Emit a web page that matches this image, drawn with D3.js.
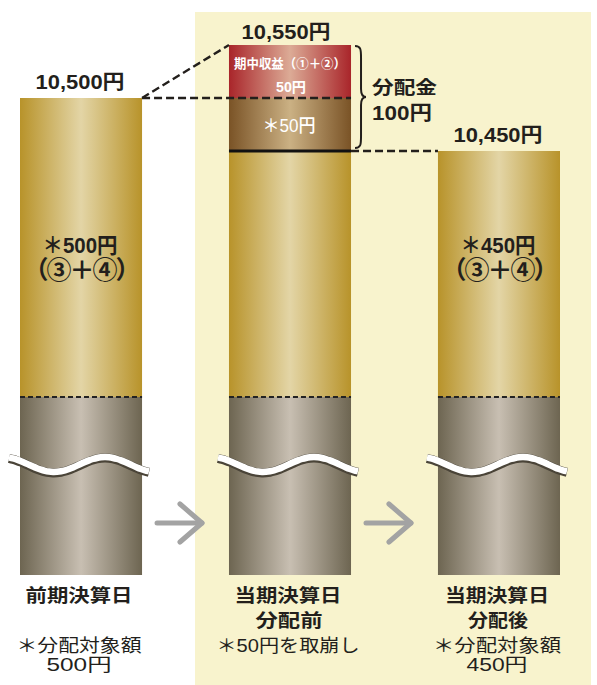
<!DOCTYPE html>
<html>
<head>
<meta charset="utf-8">
<script src="https://cdn.jsdelivr.net/npm/d3@7"></script>
<style>
  body { margin: 0; background: #fff; }
  text { font-family: "Liberation Sans", "Noto Sans CJK JP", sans-serif; fill: #231f1c; }
</style>
</head>
<body>
<svg id="chart" width="597" height="685"></svg>
<script>
// values
const categories = ['前期決算日', '当期決算日', '当期決算日'];
const subTitles = ['', '分配前', '分配後'];
const notes = [['＊分配対象額', '500円'], ['＊50円を取崩し'], ['＊分配対象額', '450円']];
const navValues = [10500, 10550, 10450];
const baseValues = [10000, 10000, 10000];
const reserveValues = [500, 450, 450];   // gold part (③+④)
const drawdownValues = [0, 50, 0];       // brown part, taken from reserve
const incomeValues = [0, 50, 0];         // red part (①+②)
const navLabels = ['10,500円', '10,550円', '10,450円'];
const reserveLabels = [['＊500円', '（③＋④）'], null, ['＊450円', '（③＋④）']];

const svg = d3.select('#chart');
const defs = svg.append('defs');

const grad = (id, edge, mid) => {
  const g = defs.append('linearGradient').attr('id', id)
    .attr('x1', 0).attr('x2', 1).attr('y1', 0).attr('y2', 0);
  g.append('stop').attr('offset', 0).attr('stop-color', edge);
  g.append('stop').attr('offset', 0.5).attr('stop-color', mid);
  g.append('stop').attr('offset', 1).attr('stop-color', edge);
};
grad('gGold', '#b8932a', '#e3d5a6');
grad('gGrey', '#6d6551', '#c8bfb2');
grad('gRed', '#a9252a', '#dcab96');
grad('gBrown', '#7a5326', '#cbb184');

// the chart is schematic, so the value axis is piecewise
const y = d3.scaleLinear()
  .domain([0, 10000, 10450, 10550])
  .range([575, 397, 151, 45]);

const x = d3.scaleBand()
  .domain(d3.range(categories.length))
  .range([20, 560])
  .paddingInner(0.416);
const bw = x.bandwidth();

// text helper: size sets the height, len the drawn width (the print face is wide)
const txt = (g, px, py, s, size, weight, len) => {
  const t = g.append('text').attr('x', px).attr('y', py)
    .attr('font-size', size).attr('font-weight', weight).text(s);
  if (len) t.attr('textLength', len).attr('lengthAdjust', 'spacingAndGlyphs');
  return t;
};

// yellow panel behind the current-period bars
svg.append('rect')
  .attr('x', 195).attr('y', 12)
  .attr('width', 396).attr('height', 673)
  .attr('fill', '#f8f3cd');

const rows = d3.range(categories.length).map(i => {
  const segs = [];
  let acc = 0;
  [[baseValues[i], 'gGrey'], [reserveValues[i], 'gGold'],
   [drawdownValues[i], 'gBrown'], [incomeValues[i], 'gRed']].forEach(([v, f]) => {
    if (v > 0) segs.push({ i, lo: acc, hi: acc + v, fill: f });
    acc += v;
  });
  return segs;
});

const bars = svg.append('g');
bars.selectAll('rect')
  .data(rows.flat())
  .join('rect')
  .attr('x', d => x(d.i))
  .attr('y', d => y(d.hi))
  .attr('width', bw)
  .attr('height', d => y(d.lo) - y(d.hi))
  .attr('fill', d => `url(#${d.fill})`);

// dashed boundary between base and reserve
bars.selectAll('line.base')
  .data(d3.range(categories.length))
  .join('line')
  .attr('class', 'base')
  .attr('x1', i => x(i)).attr('x2', i => x(i) + bw)
  .attr('y1', i => y(baseValues[i])).attr('y2', i => y(baseValues[i]))
  .attr('stroke', '#222').attr('stroke-width', 2).attr('stroke-dasharray', '5,3');

// wavy breaks
const wave = d3.line().curve(d3.curveBasis);
const waveY = 464.5;
const wavePts = i => d3.range(-11, 131, 4).map(t =>
  [x(i) + t, waveY - 7.5 * Math.cos(2 * Math.PI * (t - 85) / 102)]);
const waves = svg.append('g');
d3.range(categories.length).forEach(i => {
  waves.append('path').attr('d', wave(wavePts(i))).attr('transform', 'translate(0,1)')
    .attr('fill', 'none').attr('stroke', '#4a4438').attr('stroke-width', 9);
  waves.append('path').attr('d', wave(wavePts(i)))
    .attr('fill', 'none').attr('stroke', '#fff').attr('stroke-width', 6.5);
});

// connectors
const conn = svg.append('g').attr('stroke', '#231f1c').attr('stroke-width', 2.4)
  .attr('stroke-dasharray', '8,4').attr('fill', 'none');
conn.append('line')
  .attr('x1', x(0) + bw).attr('y1', y(navValues[0]))
  .attr('x2', x(1)).attr('y2', y(navValues[1]));
conn.append('line')
  .attr('x1', x(0) + bw).attr('y1', y(navValues[0]))
  .attr('x2', x(1) + bw).attr('y2', y(navValues[0]));
conn.append('line')
  .attr('x1', x(1) + bw).attr('y1', y(navValues[2]))
  .attr('x2', x(2)).attr('y2', y(navValues[2]));
svg.append('line')
  .attr('x1', x(1)).attr('x2', x(1) + bw)
  .attr('y1', y(navValues[2])).attr('y2', y(navValues[2]))
  .attr('stroke', '#111').attr('stroke-width', 3);

// brace for distribution
const bx = x(1) + bw + 4;
const bTop = y(navValues[1]) + 1, bBot = y(navValues[2]) - 3, bMid = (bTop + bBot) / 2;
svg.append('path')
  .attr('d', `M${bx},${bTop} C${bx + 6},${bTop} ${bx + 6},${bTop + 4} ${bx + 6},${bTop + 12}
    L${bx + 6},${bMid - 8} C${bx + 6},${bMid - 2} ${bx + 8},${bMid} ${bx + 11},${bMid}
    C${bx + 8},${bMid} ${bx + 6},${bMid + 2} ${bx + 6},${bMid + 8}
    L${bx + 6},${bBot - 12} C${bx + 6},${bBot - 4} ${bx + 6},${bBot} ${bx},${bBot}`)
  .attr('fill', 'none').attr('stroke', '#231f1c').attr('stroke-width', 2);
txt(svg, 372, 94, '分配金', 18, 700, 65);
txt(svg, 372, 120, '100円', 20, 700, 60);

// arrows
const arrows = svg.append('g').attr('stroke', '#a3a3a3').attr('stroke-width', 5)
  .attr('stroke-linecap', 'round').attr('stroke-linejoin', 'round').attr('fill', 'none');
[0, 1].forEach(i => {
  const a = x(i) + bw + 15, b = x(i + 1) - 27, cy = 523;
  arrows.append('line').attr('x1', a).attr('x2', b).attr('y1', cy).attr('y2', cy);
  arrows.append('path').attr('d', `M${b - 22},${cy - 19} L${b},${cy} L${b - 22},${cy + 19}`);
});

// labels
const labels = svg.append('g').attr('text-anchor', 'middle');
navLabels.forEach((s, i) => {
  txt(labels, x(i) + bw / 2 - (i === 1 ? 4 : 1), y(navValues[i]) - (i === 1 ? 6 : 9), s, 20, 700, 89);
});

reserveLabels.forEach((ls, i) => {
  if (!ls) return;
  const cx = x(i) + bw / 2 - 1;
  txt(labels, cx, 253, ls[0], 22, 700, 75);
  txt(labels, cx + 1, 279, ls[1], 25, 700).attr('letter-spacing', -2);
});

const cx1 = x(1) + bw / 2;
txt(labels, cx1, 68, '期中収益（①＋②）', 13, 700, 112).style('fill', '#fff');
txt(labels, cx1 + 1, 92, '50円', 14, 700, 30).style('fill', '#fff');
txt(labels, cx1 - 1, 132, '＊50円', 18, 500, 53).style('fill', '#fff');

const bottomW = [[107], [107, 67], [104, 60]];
const noteW = [[125, 65], [143], [128, 61]];
categories.forEach((c, i) => {
  const cx = x(i) + bw / 2 - 2;
  txt(labels, cx, 602, c, 18, 700, bottomW[i][0]);
  if (subTitles[i]) txt(labels, cx + 1, 627, subTitles[i], 18, 700, bottomW[i][1]);
  notes[i].forEach((n, k) => {
    txt(labels, cx, 652 + k * 19, n, 18, 400, noteW[i][k]);
  });
});
</script>
</body>
</html>
